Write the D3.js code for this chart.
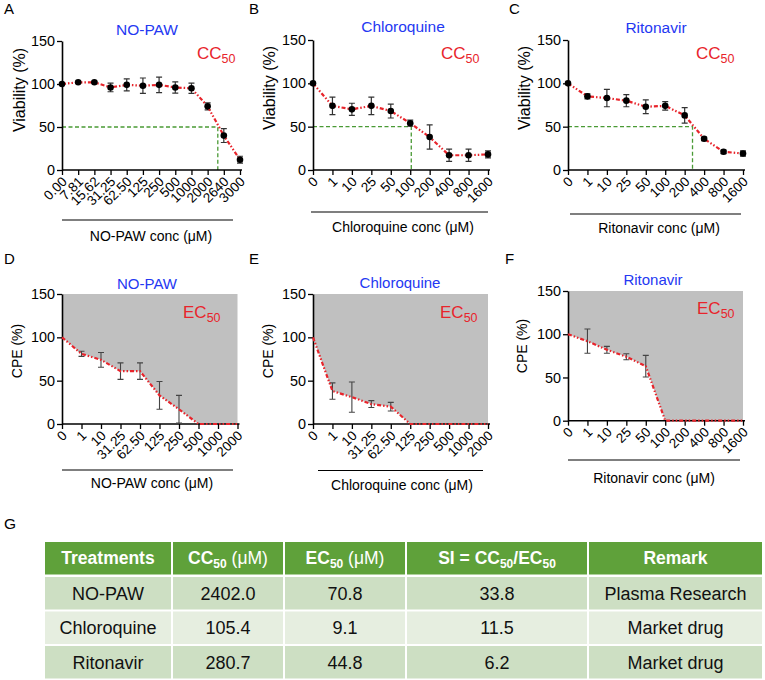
<!DOCTYPE html>
<html>
<head>
<meta charset="utf-8">
<script src="https://cdn.jsdelivr.net/npm/d3@7"></script>
<style>
body { margin: 0; background: #fff; }
svg { display: block; font-family: "Liberation Sans", Arial, Helvetica, sans-serif; }
</style>
</head>
<body>
<svg id="chart" width="765" height="680"></svg>
<script>
// ---- data ----
var noPawCcDoses = ["0.00", "7.81", "15.62", "31.25", "62.50", "125", "250", "500", "1000", "2000", "2640", "3000"];
var noPawCcMean = [100, 102, 102, 96, 99, 98, 99, 96, 95, 74, 40, 12];
var noPawCcErr = [0, 1, 1, 5, 7, 9, 9, 6.5, 6, 4, 8, 4];

var drugCcDoses = ["0", "1", "10", "25", "50", "100", "200", "400", "800", "1600"];
var chloroCcMean = [100, 74, 70, 74, 68, 54, 38, 17, 17, 18];
var chloroCcErr = [0, 10, 7, 10, 8, 3.5, 14, 7, 7, 4];
var ritoCcMean = [100, 85, 83, 80, 73, 74, 63, 36, 21, 19];
var ritoCcErr = [0, 3, 10, 7, 8, 5, 9, 2, 2, 3];

var ecDoses = ["0", "1", "10", "31.25", "62.50", "125", "250", "500", "1000", "2000"];
var noPawEcMean = [100, 81, 74, 61, 61, 33, 17, 0, 0, 0];
var noPawEcErr = [0, 3, 8.5, 9.5, 9.5, 16, 16, 0, 0, 0];
var chloroEcMean = [100, 38, 31, 23, 20, 0, 0, 0, 0, 0];
var chloroEcErr = [0, 9.5, 17.5, 4, 5, 0, 0, 0, 0, 0];
var ritoEcMean = [100, 92, 82, 74, 63, 0, 0, 0, 0, 0];
var ritoEcErr = [0, 14, 4, 3.5, 12.5, 0, 0, 0, 0, 0];

var yTicks = [0, 50, 100, 150];

var treatments = ["NO-PAW", "Chloroquine", "Ritonavir"];
var cc50Values = ["2402.0", "105.4", "280.7"];
var ec50Values = ["70.8", "9.1", "44.8"];
var siValues = ["33.8", "11.5", "6.2"];
var remarks = ["Plasma Research", "Market drug", "Market drug"];

var RED = "#e8242b";
var BLUE = "#2438f2";
var GREEN = "#4a9a35";

var svg = d3.select("#chart");

// ---- panel layout ----
var panels = [
	{ letter: "A", lx: 4, ly: 14, kind: "cc", title: treatments[0], doses: noPawCcDoses, mean: noPawCcMean, err: noPawCcErr,
	  cc50: +cc50Values[0], xr: [62, 240], yr: [170, 41], tx: 147, ty: 35, sx: 197, sy: 59,
	  yl: "Viability (%)", ylx: 19, yly: 90, ylf: 16, br: [62, 233, 220], at: "NO-PAW conc (\u03bcM)", atx: 151, aty: 241 },
	{ letter: "B", lx: 249, ly: 14, kind: "cc", title: treatments[1], doses: drugCcDoses, mean: chloroCcMean, err: chloroCcErr,
	  cc50: +cc50Values[1], xr: [313, 488], yr: [170, 40], tx: 403, ty: 32, sx: 441, sy: 59,
	  yl: "Viability (%)", ylx: 269, yly: 88, ylf: 16, br: [311, 488, 212], at: "Chloroquine conc (\u03bcM)", atx: 403, aty: 232 },
	{ letter: "C", lx: 509, ly: 14, kind: "cc", title: treatments[2], doses: drugCcDoses, mean: ritoCcMean, err: ritoCcErr,
	  cc50: +cc50Values[2], xr: [568, 743], yr: [170, 40], tx: 656, ty: 33, sx: 696, sy: 59,
	  yl: "Viability (%)", ylx: 524, yly: 88, ylf: 16, br: [570, 741, 214], at: "Ritonavir conc (\u03bcM)", atx: 659, aty: 233 },
	{ letter: "D", lx: 4, ly: 264, kind: "ec", title: treatments[0], doses: ecDoses, mean: noPawEcMean, err: noPawEcErr,
	  xr: [62, 237.5], yr: [424, 294], tx: 147, ty: 289, sx: 183, sy: 318,
	  yl: "CPE (%)", ylx: 17.5, yly: 351, ylf: 14, br: [62, 233, 470], at: "NO-PAW conc (\u03bcM)", atx: 152, aty: 488 },
	{ letter: "E", lx: 249, ly: 264, kind: "ec", title: treatments[1], doses: ecDoses, mean: chloroEcMean, err: chloroEcErr,
	  xr: [313, 488], yr: [424, 294], tx: 400, ty: 288, sx: 440, sy: 318,
	  yl: "CPE (%)", ylx: 268, yly: 351, ylf: 14, br: [318, 483, 470.5], at: "Chloroquine conc (\u03bcM)", atx: 402, aty: 490 },
	{ letter: "F", lx: 505, ly: 264, kind: "ec", title: treatments[2], doses: drugCcDoses, mean: ritoEcMean, err: ritoEcErr,
	  xr: [568, 743], yr: [420.7, 291], tx: 653, ty: 285, sx: 697, sy: 314,
	  yl: "CPE (%)", ylx: 522.5, yly: 346, ylf: 14, br: [568, 740, 460], at: "Ritonavir conc (\u03bcM)", atx: 654, aty: 483 }
];

// x pixel for a numeric concentration, interpolated between dose categories
function doseToPixel(x, doses, v) {
	for (var i = 0; i < doses.length - 1; i++) {
		var a = parseFloat(doses[i]), b = parseFloat(doses[i + 1]);
		if (v >= a && v <= b) {
			var f = (v - a) / (b - a);
			return x(doses[i]) + f * (x(doses[i + 1]) - x(doses[i]));
		}
	}
	return x(doses[doses.length - 1]);
}

function drawPanel(p) {
	var x = d3.scalePoint().domain(p.doses).range(p.xr);
	var y = d3.scaleLinear().domain([0, 150]).range(p.yr);
	var pts = p.doses.map(function(d, i) { return { dose: d, mean: p.mean[i], err: p.err[i] }; });

	var g = svg.append("g");

	// grey area above the curve (EC panels)
	if (p.kind == "ec") {
		g.append("path")
			.datum(pts)
			.attr("fill", "#c0c0c0")
			.attr("d", d3.area()
				.x(function(d) { return x(d.dose); })
				.y0(y(150))
				.y1(function(d) { return y(d.mean); }));
	}

	// CC50 guide
	if (p.kind == "cc") {
		var cx = doseToPixel(x, p.doses, p.cc50);
		g.append("path")
			.attr("fill", "none")
			.attr("stroke", GREEN)
			.attr("stroke-width", 1.3)
			.attr("stroke-dasharray", "4,2.5")
			.attr("d", "M" + p.xr[0] + "," + y(50) + "H" + cx + "V" + y(0));
	}

	// axes
	var ya = g.append("g")
		.attr("transform", "translate(" + p.xr[0] + ",0)")
		.call(d3.axisLeft(y).tickValues(yTicks).tickSize(5).tickSizeOuter(0).tickPadding(2));
	var xa = g.append("g")
		.attr("transform", "translate(0," + p.yr[0] + ")")
		.call(d3.axisBottom(x).tickSize(5).tickSizeOuter(0));
	xa.select(".domain").attr("d", "M" + p.xr[0] + ",0H" + (p.xr[1] + 2));

	[ya, xa].forEach(function(a) {
		a.attr("font-family", null).attr("font-size", null);
		a.select(".domain").attr("stroke", "#000").attr("stroke-width", 1.6);
		a.selectAll(".tick line").attr("stroke", "#000").attr("stroke-width", 1.3);
		a.selectAll(".tick text").attr("fill", "#000").style("font-size", "14.4px");
	});

	xa.selectAll(".tick text")
		.attr("x", 0).attr("y", 0).attr("dy", "0.35em")
		.attr("transform", "translate(2,9) rotate(-45)")
		.style("text-anchor", "end")
		.style("font-size", "13.5px");

	// error bars
	var eb = g.append("g")
		.attr("stroke", p.kind == "cc" ? "#333" : "#444")
		.attr("stroke-width", p.kind == "cc" ? 1.2 : 1.1)
		.attr("fill", "none");
	pts.filter(function(d) { return d.err > 0; }).forEach(function(d) {
		var px = x(d.dose), t = y(d.mean + d.err), b = y(d.mean - d.err);
		eb.append("path").attr("d",
			"M" + px + "," + t + "V" + b +
			"M" + (px - 3) + "," + t + "H" + (px + 3) +
			"M" + (px - 3) + "," + b + "H" + (px + 3));
	});

	// red dash-dot line
	g.append("path")
		.datum(pts)
		.attr("fill", "none")
		.attr("stroke", RED)
		.attr("stroke-width", 2.2)
		.attr("stroke-dasharray", "4,2,1.5,2,1.5,2")
		.attr("d", d3.line()
			.x(function(d) { return x(d.dose); })
			.y(function(d) { return y(d.mean); }));

	if (p.kind == "cc") {
		g.selectAll("circle.pt").data(pts).enter().append("circle")
			.attr("class", "pt")
			.attr("cx", function(d) { return x(d.dose); })
			.attr("cy", function(d) { return y(d.mean); })
			.attr("r", 3.3)
			.attr("fill", "#000");
	}

	// texts
	g.append("text").attr("x", p.lx).attr("y", p.ly).attr("font-size", 15).text(p.letter);

	g.append("text").attr("x", p.tx).attr("y", p.ty).attr("text-anchor", "middle")
		.attr("font-size", p.kind == "cc" ? 15.5 : 15).attr("fill", BLUE).text(p.title);

	var sub = g.append("text").attr("x", p.sx).attr("y", p.sy).attr("font-size", 17).attr("fill", RED);
	sub.append("tspan").text(p.kind == "cc" ? "CC" : "EC");
	sub.append("tspan").attr("dy", 4).attr("font-size", 12.5).text("50");

	g.append("text")
		.attr("transform", "translate(" + p.ylx + "," + p.yly + ") rotate(-90)")
		.attr("text-anchor", "middle").attr("dy", "0.35em")
		.attr("font-size", p.ylf).text(p.yl);

	g.append("line")
		.attr("x1", p.br[0]).attr("x2", p.br[1]).attr("y1", p.br[2]).attr("y2", p.br[2])
		.attr("stroke", "#000").attr("stroke-width", 1.2);

	g.append("text").attr("x", p.atx).attr("y", p.aty).attr("text-anchor", "middle")
		.attr("font-size", 14).text(p.at);
}

panels.forEach(drawPanel);

// ---- table G ----
svg.append("text").attr("x", 4).attr("y", 529).attr("font-size", 15.5).text("G");

var colX = [44, 172, 284, 406, 588, 763];
var headTop = 542, headH = 32.5;
var rowTop = [577, 611.5, 646], rowH = 32.5;
var rowFill = ["#cddfc3", "#e6eee0", "#cddfc3"];

var tg = svg.append("g");
for (var c = 0; c < 5; c++) {
	tg.append("rect").attr("x", colX[c] + 1).attr("y", headTop)
		.attr("width", colX[c + 1] - colX[c] - 2).attr("height", headH).attr("fill", "#5fa13a");
	for (var r = 0; r < 3; r++) {
		tg.append("rect").attr("x", colX[c] + 1).attr("y", rowTop[r])
			.attr("width", colX[c + 1] - colX[c] - 2).attr("height", rowH).attr("fill", rowFill[r]);
	}
}

function colMid(c) { return (colX[c] + colX[c + 1]) / 2; }

function headText(c) {
	return tg.append("text").attr("x", colMid(c)).attr("y", headTop + headH / 2 + 6)
		.attr("text-anchor", "middle").attr("fill", "#fff").attr("font-size", 17.5).attr("font-weight", "bold");
}

headText(0).text("Treatments");
var h1 = headText(1);
h1.append("tspan").text("CC");
h1.append("tspan").attr("dy", 4).attr("font-size", 12).text("50");
h1.append("tspan").attr("dy", -4).attr("font-weight", "normal").text(" (\u03bcM)");
var h2 = headText(2);
h2.append("tspan").text("EC");
h2.append("tspan").attr("dy", 4).attr("font-size", 12).text("50");
h2.append("tspan").attr("dy", -4).attr("font-weight", "normal").text(" (\u03bcM)");
var h3 = headText(3);
h3.append("tspan").text("SI = CC");
h3.append("tspan").attr("dy", 4).attr("font-size", 12).text("50");
h3.append("tspan").attr("dy", -4).text("/EC");
h3.append("tspan").attr("dy", 4).attr("font-size", 12).text("50");
headText(4).text("Remark");

var cols = [treatments, cc50Values, ec50Values, siValues, remarks];
for (var c = 0; c < 5; c++) {
	for (var r = 0; r < 3; r++) {
		tg.append("text").attr("x", colMid(c)).attr("y", rowTop[r] + rowH / 2 + 6.5)
			.attr("text-anchor", "middle").attr("font-size", 18).attr("fill", "#111")
			.text(cols[c][r]);
	}
}
</script>
</body>
</html>
